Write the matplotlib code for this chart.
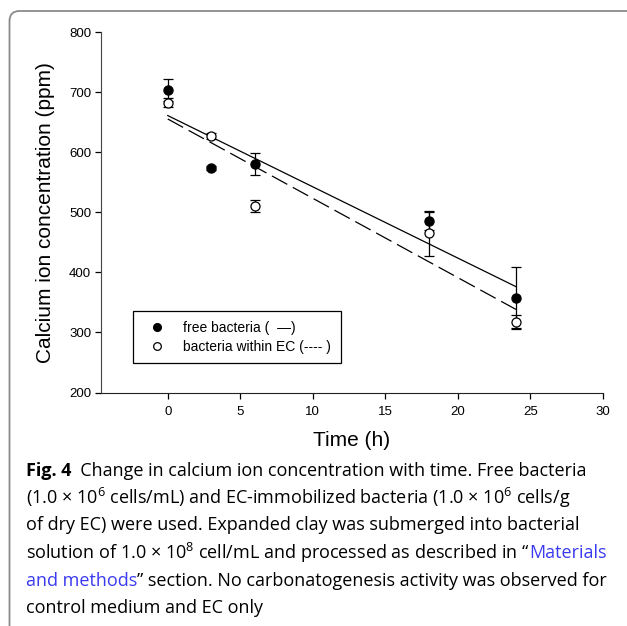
import numpy as np
import matplotlib
matplotlib.use("Agg")
import matplotlib.pyplot as plt
from matplotlib.patches import FancyBboxPatch

# data
time_h = [0, 3, 6, 18, 24]
free_ca = [704, 574, 581, 485, 357]
free_err = [18, 4, 18, 15, 52]
ec_ca = [683, 628, 510, 465, 318]
ec_err = [8, 5, 10, 37, 11]

legend_labels = ["free bacteria (  \u2014)", "bacteria within EC (---- )"]

caption_lines = [
    [("Fig. 4", "bold", "black"), ("  Change in calcium ion concentration with time. Free bacteria", "normal", "black")],
    [("(1.0 \u00d7 10$^{6}$ cells/mL) and EC-immobilized bacteria (1.0 \u00d7 10$^{6}$ cells/g", "normal", "black")],
    [("of dry EC) were used. Expanded clay was submerged into bacterial", "normal", "black")],
    [("solution of 1.0 \u00d7 10$^{8}$ cell/mL and processed as described in \u201c", "normal", "black"),
     ("Materials", "normal", "#3a3af0")],
    [("and methods", "normal", "#3a3af0"),
     ("\u201d section. No carbonatogenesis activity was observed for", "normal", "black")],
    [("control medium and EC only", "normal", "black")],
]

plt.rcParams["mathtext.fontset"] = "custom"
plt.rcParams["mathtext.rm"] = "Open Sans"

W, H = 627, 626
fig = plt.figure(figsize=(W / 100, H / 100), dpi=100)

# rounded frame around the whole figure (runs off the right and bottom edges)
box = FancyBboxPatch((9.5 / W, -0.05), 1.1, 1.05 - 11 / H,
                     boxstyle="round,pad=0,rounding_size=0.016",
                     transform=fig.transFigure, fill=False,
                     edgecolor="#8a8a8a", linewidth=1.3, clip_on=False)
fig.patches.append(box)

ax = fig.add_axes([101 / W, 1 - 392.5 / H, (603 - 101) / W, (392.5 - 32.3) / H])

font = "Liberation Sans"
x = np.array(time_h, dtype=float)

# regression lines
k1, b1 = np.polyfit(x, free_ca, 1)
k2, b2 = np.polyfit(x, ec_ca, 1)
xl = np.array([0, 24])
ax.plot(xl, k1 * xl + b1, color="black", lw=0.9)
ax.plot(xl, k2 * xl + b2, color="black", lw=0.9, dashes=(14, 5))

ax.errorbar(x, free_ca, yerr=free_err, fmt="o", color="black", mfc="black",
            mec="black", ms=6.5, capsize=3.3, elinewidth=0.9, capthick=0.9,
            label=legend_labels[0], zorder=3)
ax.errorbar(x, ec_ca, yerr=ec_err, fmt="o", color="black", mfc="white",
            mec="black", ms=6.5, mew=0.9, capsize=3.3, elinewidth=0.9,
            capthick=0.9, label=legend_labels[1], zorder=4)

ax.set_xlim(-4.6, 30)
ax.set_ylim(200, 800)
ax.set_xticks([0, 5, 10, 15, 20, 25, 30])
ax.set_yticks([200, 300, 400, 500, 600, 700, 800])
for s in ["top", "right"]:
    ax.spines[s].set_visible(False)
ax.spines["left"].set_color("#444444")
ax.spines["bottom"].set_color("#222222")
ax.tick_params(length=4, width=0.9, labelsize=9.5, pad=3)
for lab in ax.get_xticklabels() + ax.get_yticklabels():
    lab.set_fontfamily(font)
ax.tick_params(axis="x", pad=6)

ax.set_xlabel("Time (h)", fontsize=15, fontfamily=font, labelpad=9)
ax.set_ylabel("Calcium ion concentration (ppm)", fontsize=15, fontfamily=font, labelpad=10)

handles, labels = ax.get_legend_handles_labels()
handles = [h[0] for h in handles]
leg = ax.legend(handles, labels, loc="upper left", bbox_to_anchor=(32 / 502, 1 - (311 - 32.3) / 360.2),
                frameon=True, fancybox=False, edgecolor="black", framealpha=1,
                prop={"family": font, "size": 10}, handletextpad=0.9, borderpad=0.7,
                labelspacing=0.35, handlelength=2.0, markerscale=0.85, borderaxespad=0)
leg.get_frame().set_linewidth(0.9)

# caption, drawn piece by piece
fig.canvas.draw()
renderer = fig.canvas.get_renderer()
cap_font = "Open Sans"
cap_size = 13
y0 = 470.5
for i, line in enumerate(caption_lines):
    xpix = 26
    ypix = y0 + i * 27.5
    for text, weight, color in line:
        t = fig.text(xpix / W, 1 - ypix / H, text, fontsize=cap_size, fontfamily=cap_font,
                     fontweight=weight, color=color, va="center", ha="left")
        bb = t.get_window_extent(renderer)
        xpix += bb.width

fig.savefig("out.png", dpi=100)
